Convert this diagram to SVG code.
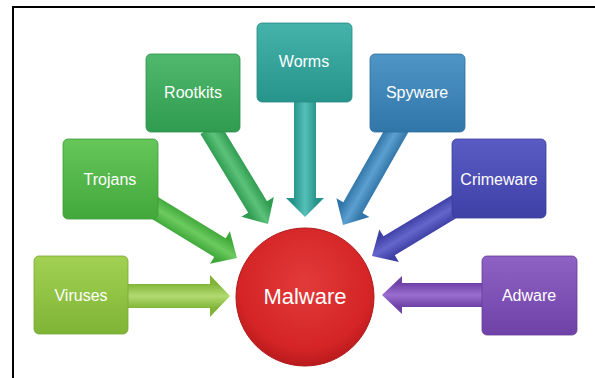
<svg xmlns="http://www.w3.org/2000/svg" width="595" height="378" viewBox="0 0 595 378">
  <style>
    .lbl { font-family: "Liberation Sans", Arial, sans-serif; font-size: 16px; fill: #ffffff; text-anchor: middle; }
    .big { font-family: "Liberation Sans", Arial, sans-serif; font-size: 22px; fill: #ffffff; text-anchor: middle; }
    .box { stroke-width: 0.8; }
  </style>
  <defs>
    <linearGradient id="gVir" x1="0" y1="0" x2="0" y2="1"><stop offset="0" stop-color="#a2d152"/><stop offset="1" stop-color="#7fb436"/></linearGradient>
    <linearGradient id="gTro" x1="0" y1="0" x2="0" y2="1"><stop offset="0" stop-color="#66c65a"/><stop offset="1" stop-color="#42a83c"/></linearGradient>
    <linearGradient id="gRoo" x1="0" y1="0" x2="0" y2="1"><stop offset="0" stop-color="#50b86c"/><stop offset="1" stop-color="#2f9c50"/></linearGradient>
    <linearGradient id="gWor" x1="0" y1="0" x2="0" y2="1"><stop offset="0" stop-color="#45b3aa"/><stop offset="1" stop-color="#27948c"/></linearGradient>
    <linearGradient id="gSpy" x1="0" y1="0" x2="0" y2="1"><stop offset="0" stop-color="#4f95c6"/><stop offset="1" stop-color="#3176a8"/></linearGradient>
    <linearGradient id="gCri" x1="0" y1="0" x2="0" y2="1"><stop offset="0" stop-color="#5a5cc4"/><stop offset="1" stop-color="#3e40a6"/></linearGradient>
    <linearGradient id="gAdw" x1="0" y1="0" x2="0" y2="1"><stop offset="0" stop-color="#8e61c4"/><stop offset="1" stop-color="#6f42a8"/></linearGradient>

    <linearGradient id="aVir" x1="0" y1="0" x2="0" y2="1"><stop offset="0.2" stop-color="#7fb436"/><stop offset="0.5" stop-color="#b2da72"/><stop offset="0.8" stop-color="#7fb436"/></linearGradient>
    <linearGradient id="aTro" x1="0" y1="0" x2="0" y2="1"><stop offset="0.2" stop-color="#40a83a"/><stop offset="0.5" stop-color="#6ccb60"/><stop offset="0.8" stop-color="#40a83a"/></linearGradient>
    <linearGradient id="aRoo" x1="0" y1="0" x2="0" y2="1"><stop offset="0.2" stop-color="#2f9c50"/><stop offset="0.5" stop-color="#5cc27a"/><stop offset="0.8" stop-color="#2f9c50"/></linearGradient>
    <linearGradient id="aWor" x1="0" y1="0" x2="0" y2="1"><stop offset="0.2" stop-color="#27948c"/><stop offset="0.5" stop-color="#55c0b8"/><stop offset="0.8" stop-color="#27948c"/></linearGradient>
    <linearGradient id="aSpy" x1="0" y1="0" x2="0" y2="1"><stop offset="0.2" stop-color="#3176a8"/><stop offset="0.5" stop-color="#5c9fd0"/><stop offset="0.8" stop-color="#3176a8"/></linearGradient>
    <linearGradient id="aCri" x1="0" y1="0" x2="0" y2="1"><stop offset="0.2" stop-color="#3e40a6"/><stop offset="0.5" stop-color="#6466cc"/><stop offset="0.8" stop-color="#3e40a6"/></linearGradient>
    <linearGradient id="aAdw" x1="0" y1="0" x2="0" y2="1"><stop offset="0.2" stop-color="#6f42a8"/><stop offset="0.5" stop-color="#9a6dd0"/><stop offset="0.8" stop-color="#6f42a8"/></linearGradient>

    <radialGradient id="gMal" cx="0.5" cy="0.4" r="0.6"><stop offset="0" stop-color="#e23a3a"/><stop offset="0.8" stop-color="#d42426"/><stop offset="1" stop-color="#b81a1c"/></radialGradient>
  </defs>

  <rect x="0" y="0" width="595" height="378" fill="#ffffff"/>
  <line x1="12" y1="7" x2="595" y2="7" stroke="#000000" stroke-width="2"/>
  <line x1="13" y1="6" x2="13" y2="378" stroke="#000000" stroke-width="2"/>

  <g id="connectors">
    <path fill="url(#aVir)" transform="translate(230,296)" d="M-104,-12 L-20,-12 L-20,-21 L0,0 L-20,21 L-20,12 L-104,12 Z"/>
    <path fill="url(#aAdw)" transform="translate(382,295) rotate(180)" d="M-104,-12 L-20,-12 L-20,-19 L0,0 L-20,19 L-20,12 L-104,12 Z"/>
    <path fill="url(#aWor)" transform="translate(305,217) rotate(90)" d="M-118,-11 L-19,-11 L-19,-19 L0,0 L-19,19 L-19,11 L-118,11 Z"/>
    <path fill="url(#aRoo)" transform="translate(268,224) rotate(58.7)" d="M-112,-11 L-20,-11 L-20,-19 L0,0 L-20,19 L-20,11 L-112,11 Z"/>
    <path fill="url(#aSpy)" transform="translate(343,225) rotate(119.6)" d="M-114,-11 L-20,-11 L-20,-19 L0,0 L-20,19 L-20,11 L-114,11 Z"/>
    <path fill="url(#aTro)" transform="translate(237,258) rotate(31.4)" d="M-106,-11 L-20,-11 L-20,-19 L0,0 L-20,19 L-20,11 L-106,11 Z"/>
    <path fill="url(#aCri)" transform="translate(372,256) rotate(149)" d="M-106,-11 L-20,-11 L-20,-19 L0,0 L-20,19 L-20,11 L-106,11 Z"/>
  </g>

  <g id="viruses">
    <rect class="box" x="34" y="256" width="94" height="78" rx="5" fill="url(#gVir)" stroke="#77a832"/>
    <text class="lbl" x="81" y="301">Viruses</text>
  </g>
  <g id="trojans">
    <rect class="box" x="63" y="139" width="95" height="80" rx="5" fill="url(#gTro)" stroke="#3e9c38"/>
    <text class="lbl" x="110" y="185">Trojans</text>
  </g>
  <g id="rootkits">
    <rect class="box" x="146" y="54" width="94" height="78" rx="5" fill="url(#gRoo)" stroke="#2c904b"/>
    <text class="lbl" x="193" y="98">Rootkits</text>
  </g>
  <g id="worms">
    <rect class="box" x="257" y="23" width="95" height="79" rx="5" fill="url(#gWor)" stroke="#248a83"/>
    <text class="lbl" x="304" y="67">Worms</text>
  </g>
  <g id="spyware">
    <rect class="box" x="370" y="54" width="95" height="78" rx="5" fill="url(#gSpy)" stroke="#2e6e9c"/>
    <text class="lbl" x="417" y="98">Spyware</text>
  </g>
  <g id="crimeware">
    <rect class="box" x="452" y="139" width="94" height="79" rx="5" fill="url(#gCri)" stroke="#3a3c9c"/>
    <text class="lbl" x="499" y="185">Crimeware</text>
  </g>
  <g id="adware">
    <rect class="box" x="482" y="256" width="95" height="79" rx="5" fill="url(#gAdw)" stroke="#683e9c"/>
    <text class="lbl" x="529" y="301">Adware</text>
  </g>
  <g id="malware">
    <circle cx="305" cy="297" r="69" fill="url(#gMal)" stroke="#b01a1c" stroke-width="1"/>
    <text class="big" x="305" y="304">Malware</text>
  </g>
</svg>
